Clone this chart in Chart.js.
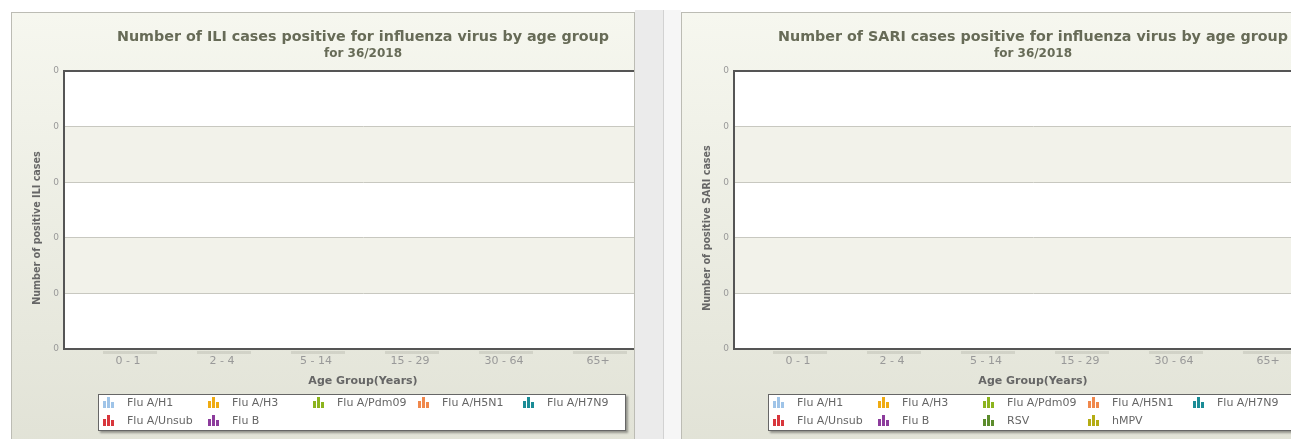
<!DOCTYPE html>
<html>
<head>
<meta charset="utf-8">
<script src="https://cdn.jsdelivr.net/npm/chart.js@4"></script>
<style>
  html, body { margin: 0; padding: 0; width: 1291px; height: 439px; overflow: hidden; background: #fff; font-family: "DejaVu Sans", sans-serif; }
  .panel { position: absolute; top: 12px; height: 440px; border: 1px solid #bcbcb4; background: linear-gradient(#f6f7ef, #e1e2d6); overflow: hidden; }
  #leftPanel { left: 11px; width: 622px; }
  #rightPanel { left: 681px; width: 640px; }
  #strip1 { position: absolute; left: 635px; top: 10px; width: 28px; height: 440px; background: #ebebeb; border-right: 1px solid #d2d2d2; }
  #strip2 { position: absolute; left: 664px; top: 10px; width: 17px; height: 440px; background: #f6f6f6; }
  canvas { position: absolute; left: 0; top: 0; }
  .legend { position: absolute; left: 86px; top: 381px; width: 526px; height: 35px; background: #fff; border: 1px solid #666; box-shadow: 2px 2px 2px rgba(0,0,0,0.35); }
  .legend .item { position: absolute; height: 18px; display: flex; align-items: center; font-size: 11px; color: #666; white-space: nowrap; }
  .legend .item canvas { position: static; margin-right: 12px; }
</style>
</head>
<body>
<div id="leftPanel" class="panel">
  <canvas id="iliChart" width="650" height="427"></canvas>
  <div id="iliLegend" class="legend"></div>
</div>
<div id="strip1"></div>
<div id="strip2"></div>
<div id="rightPanel" class="panel">
  <canvas id="sariChart" width="650" height="427"></canvas>
  <div id="sariLegend" class="legend"></div>
</div>
<script>
const ageGroups = ['0 - 1', '2 - 4', '5 - 14', '15 - 29', '30 - 64', '65+'];
const yTickLabels = ['0', '0', '0', '0', '0', '0'];

const iliSeries = ['Flu A/H1', 'Flu A/H3', 'Flu A/Pdm09', 'Flu A/H5N1', 'Flu A/H7N9', 'Flu A/Unsub', 'Flu B'];
const iliValues = [
  [0, 0, 0, 0, 0, 0],
  [0, 0, 0, 0, 0, 0],
  [0, 0, 0, 0, 0, 0],
  [0, 0, 0, 0, 0, 0],
  [0, 0, 0, 0, 0, 0],
  [0, 0, 0, 0, 0, 0],
  [0, 0, 0, 0, 0, 0]
];

const sariSeries = ['Flu A/H1', 'Flu A/H3', 'Flu A/Pdm09', 'Flu A/H5N1', 'Flu A/H7N9', 'Flu A/Unsub', 'Flu B', 'RSV', 'hMPV'];
const sariValues = [
  [0, 0, 0, 0, 0, 0],
  [0, 0, 0, 0, 0, 0],
  [0, 0, 0, 0, 0, 0],
  [0, 0, 0, 0, 0, 0],
  [0, 0, 0, 0, 0, 0],
  [0, 0, 0, 0, 0, 0],
  [0, 0, 0, 0, 0, 0],
  [0, 0, 0, 0, 0, 0],
  [0, 0, 0, 0, 0, 0]
];

const seriesColors = {
  'Flu A/H1': '#9fc4e8',
  'Flu A/H3': '#efab12',
  'Flu A/Pdm09': '#8cb41e',
  'Flu A/H5N1': '#f0884c',
  'Flu A/H7N9': '#1a8c96',
  'Flu A/Unsub': '#d8363c',
  'Flu B': '#8c3c9c',
  'RSV': '#5c8c2c',
  'hMPV': '#b4ac14'
};

Chart.defaults.font.family = '"DejaVu Sans", sans-serif';

// white plot with cream bands, top frame line, empty column shadows, y title
const panelDeco = {
  id: 'panelDeco',
  beforeDraw(chart) {
    const {ctx, chartArea: a, scales: {y}} = chart;
    ctx.save();
    ctx.fillStyle = '#fff';
    ctx.fillRect(a.left, a.top, a.right - a.left, a.bottom - a.top);
    ctx.fillStyle = '#f2f2ea';
    [1, 3].forEach(v => {
      const t = y.getPixelForValue(v + 1), b = y.getPixelForValue(v);
      ctx.fillRect(a.left, t, a.right - a.left, b - t);
    });
    ctx.restore();
  },
  afterDraw(chart, args, opts) {
    const {ctx, chartArea: a, scales: {x}} = chart;
    ctx.save();
    ctx.strokeStyle = '#555';
    ctx.lineWidth = 2;
    ctx.beginPath();
    ctx.moveTo(a.left, a.top);
    ctx.lineTo(a.right, a.top);
    ctx.stroke();

    ctx.fillStyle = 'rgba(150,150,140,0.25)';
    ageGroups.forEach((g, i) => {
      const cx = x.getPixelForValue(i);
      ctx.fillRect(cx - 25, a.bottom + 2, 54, 3);
    });

    ctx.translate(25, (a.top + a.bottom) / 2 + 18);
    ctx.rotate(-Math.PI / 2);
    ctx.font = 'bold 9.6px "DejaVu Sans"';
    ctx.fillStyle = '#666';
    ctx.textAlign = 'center';
    ctx.textBaseline = 'middle';
    ctx.fillText(opts.yTitle, 0, 0);
    ctx.restore();
  }
};

function barIcon(color) {
  const c = document.createElement('canvas');
  c.width = 12; c.height = 11;
  const g = c.getContext('2d');
  g.fillStyle = color;
  g.fillRect(0, 4, 3, 7);
  g.fillRect(4, 0, 3, 11);
  g.fillRect(8, 5, 3, 6);
  return c;
}

function htmlLegend(id) {
  return {
    id: 'htmlLegend',
    afterUpdate(chart) {
      const box = document.getElementById(id);
      box.innerHTML = '';
      const items = chart.options.plugins.legend.labels.generateLabels(chart);
      items.forEach((item, i) => {
        const el = document.createElement('div');
        el.className = 'item';
        el.style.left = (4 + (i % 5) * 105) + 'px';
        el.style.top = (Math.floor(i / 5) * 18 - 2) + 'px';
        el.appendChild(barIcon(item.fillStyle));
        el.appendChild(document.createTextNode(item.text));
        box.appendChild(el);
      });
    }
  };
}

function makeChart(canvasId, legendId, title, yTitle, series, values) {
  return new Chart(document.getElementById(canvasId), {
    type: 'bar',
    data: {
      datasets: series.map((name, k) => ({
        label: name,
        data: values[k].map((v, i) => ({x: i, y: v})),
        backgroundColor: seriesColors[name],
        borderWidth: 0
      }))
    },
    options: {
      responsive: false,
      animation: false,
      layout: { padding: 0 },
      plugins: {
        legend: { display: false },
        tooltip: { enabled: false },
        title: {
          display: true,
          fullSize: false,
          text: title,
          color: '#676b57',
          font: { size: 14.3, weight: 'bold', lineHeight: 1.2 },
          padding: { top: 15.4, bottom: 0 }
        },
        subtitle: {
          display: true,
          fullSize: false,
          text: 'for 36/2018',
          color: '#676b57',
          font: { size: 12, weight: 'bold', lineHeight: 1.2 },
          padding: { top: 1.4, bottom: 9.64 }
        },
        panelDeco: { yTitle: yTitle }
      },
      scales: {
        x: {
          type: 'linear',
          offset: false,
          min: -0.681,
          max: 5.681,
          afterBuildTicks: s => { s.ticks = ageGroups.map((g, i) => ({value: i})); },
          afterFit: s => { s.height = 91; },
          grid: { display: false, drawTicks: false },
          border: { color: '#555', width: 2 },
          ticks: {
            autoSkip: false,
            maxRotation: 0,
            padding: 5.4,
            color: '#999',
            font: { size: 11 },
            callback: (v, i) => ageGroups[i]
          },
          title: {
            display: true,
            text: 'Age Group(Years)',
            color: '#666',
            font: { size: 11, weight: 'bold', lineHeight: 1.2 },
            padding: { top: 0, bottom: 52.4 }
          }
        },
        y: {
          min: 0,
          max: 5,
          afterFit: s => { s.width = 52; },
          grid: { color: '#c8c8c0', lineWidth: 1, drawTicks: false },
          border: { color: '#555', width: 2 },
          ticks: {
            stepSize: 1,
            padding: 5,
            color: '#999',
            font: { size: 9 },
            callback: (v, i) => yTickLabels[i]
          }
        }
      }
    },
    plugins: [panelDeco, htmlLegend(legendId)]
  });
}

makeChart('iliChart', 'iliLegend', 'Number of ILI cases positive for influenza virus by age group',
  'Number of positive ILI cases', iliSeries, iliValues);
makeChart('sariChart', 'sariLegend', 'Number of SARI cases positive for influenza virus by age group',
  'Number of positive SARI cases', sariSeries, sariValues);
</script>
</body>
</html>
